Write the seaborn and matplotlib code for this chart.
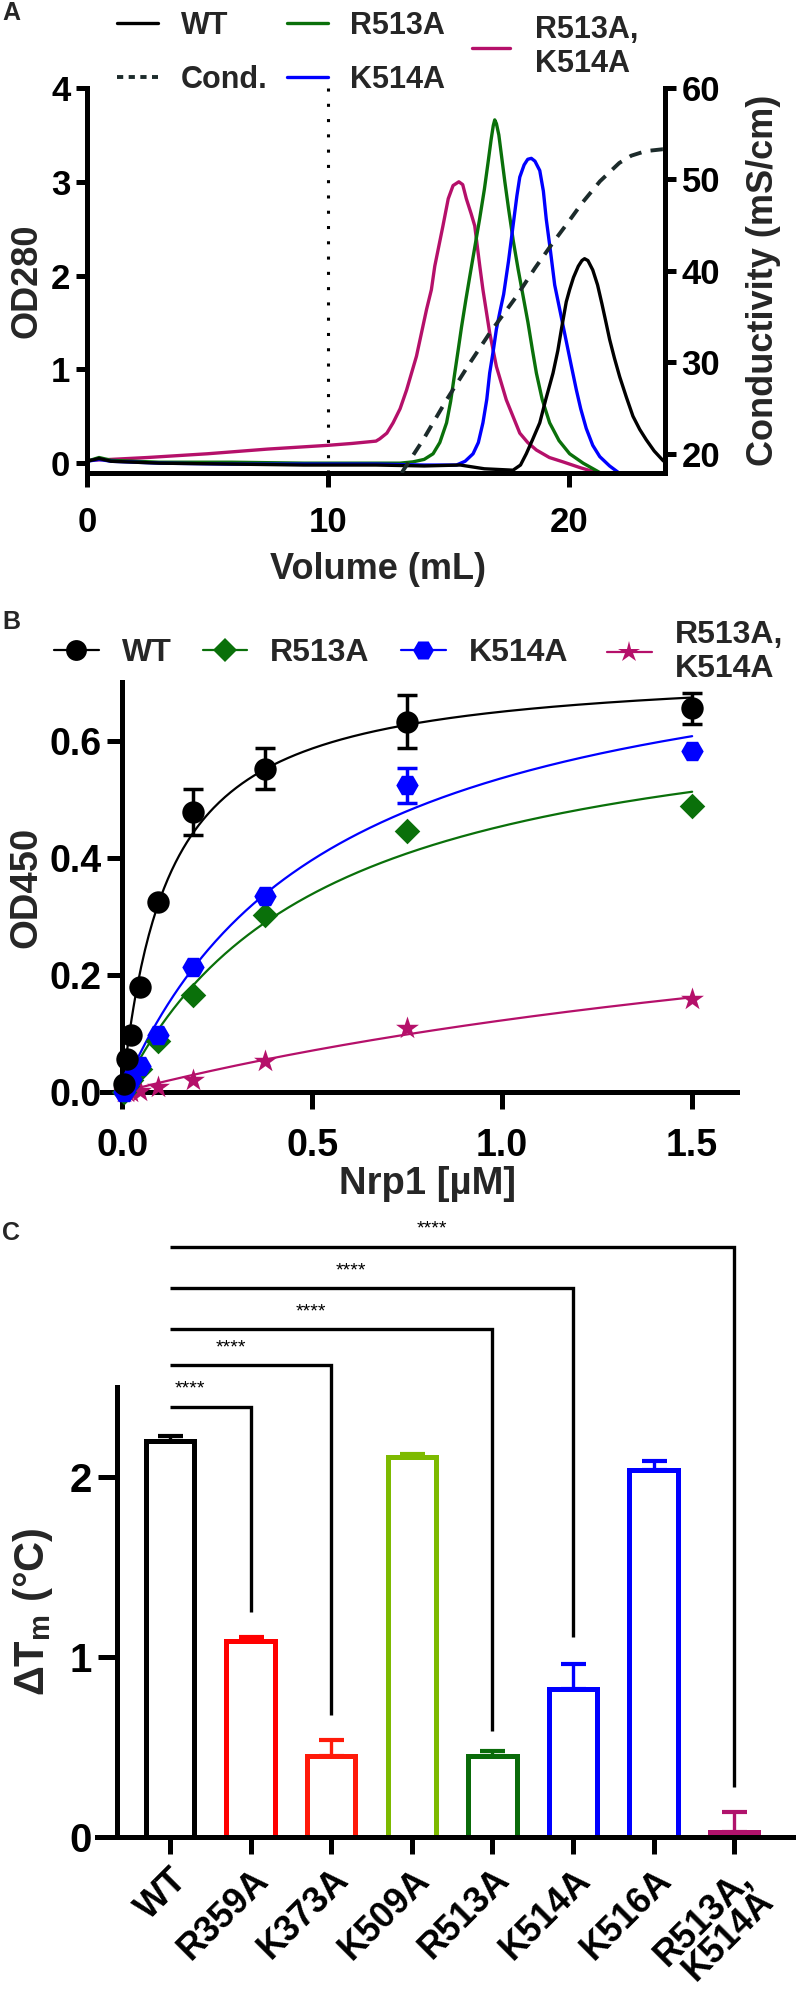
import numpy as np
import matplotlib
matplotlib.use("Agg")
import matplotlib.pyplot as plt
import seaborn as sns
from matplotlib.lines import Line2D

# ---------------- data ----------------
# Panel A: chromatograms (OD280) and conductivity
wt_vol = [0, 0.5, 1, 3, 6, 9, 12, 14, 15.5, 16.5, 17.69, 18.0, 18.24, 18.5, 18.8, 19.05,
          19.35, 19.55, 19.7, 19.9, 20.04, 20.2, 20.4, 20.55, 20.66, 20.8, 21.0, 21.2, 21.38,
          21.55, 21.7, 21.9, 22.12, 22.4, 22.67, 22.95, 23.22, 23.55, 23.91, 24.0]
wt_od = [0.02, 0.05, 0.02, 0.0, -0.01, -0.02, -0.02, -0.03, -0.02, -0.06, -0.075, -0.02,
         0.10, 0.25, 0.43, 0.68, 0.96, 1.2, 1.43, 1.72, 1.85, 1.98, 2.1, 2.16, 2.18, 2.16,
         2.06, 1.9, 1.7, 1.5, 1.32, 1.12, 0.92, 0.7, 0.5, 0.36, 0.25, 0.13, 0.03, 0.01]

r513_vol = [0, 0.5, 1, 3, 6, 9, 12, 13.0, 13.54, 14.0, 14.37, 14.65, 14.93, 15.1, 15.27,
            15.42, 15.55, 15.73, 15.9, 16.1, 16.3, 16.5, 16.65, 16.78, 16.87, 16.93, 17.0,
            17.1, 17.2, 17.35, 17.5, 17.7, 17.9, 18.08, 18.31, 18.5, 18.66, 18.9, 19.21,
            19.6, 20.04, 20.6, 21.29]
r513_od = [0.02, 0.06, 0.03, 0.01, 0.01, 0.0, 0.0, 0.0, 0.014, 0.04, 0.10, 0.22, 0.43,
           0.66, 0.96, 1.22, 1.45, 1.74, 2.0, 2.3, 2.6, 2.92, 3.2, 3.45, 3.6, 3.66, 3.62,
           3.5, 3.3, 3.0, 2.72, 2.37, 2.07, 1.82, 1.5, 1.2, 0.96, 0.68, 0.43, 0.24, 0.10,
           0.0, -0.10]

k514_vol = [0, 0.5, 1, 3, 6, 9, 12, 14, 15.34, 15.7, 16.03, 16.25, 16.44, 16.6, 16.72,
            16.87, 17.0, 17.15, 17.3, 17.5, 17.69, 17.85, 17.97, 18.15, 18.3, 18.45, 18.6,
            18.8, 18.95, 19.07, 19.25, 19.42, 19.7, 19.9, 20.1, 20.32, 20.5, 20.73, 21.0,
            21.29, 21.7, 22.12]
k514_od = [0.02, 0.04, 0.02, 0.0, -0.01, -0.01, -0.01, -0.02, -0.02, 0.02, 0.10, 0.22,
           0.43, 0.68, 0.96, 1.2, 1.43, 1.62, 1.8, 2.15, 2.53, 2.85, 3.05, 3.18, 3.24, 3.25,
           3.22, 3.12, 2.9, 2.6, 2.25, 1.9, 1.55, 1.3, 1.05, 0.78, 0.58, 0.37, 0.19, 0.07,
           -0.03, -0.11]

dbl_vol = [0, 1, 2.5, 5, 7.5, 10, 11, 12.0, 12.16, 12.45, 12.71, 13.0, 13.27, 13.68, 14.1,
           14.3, 14.44, 14.78, 15.0, 15.2, 15.44, 15.6, 15.75, 15.95, 16.1, 16.31, 16.44,
           16.72, 17.0, 17.41, 17.97, 18.3, 18.66, 19.2, 19.76, 20.5, 21.29]
dbl_od = [0.03, 0.04, 0.06, 0.10, 0.15, 0.19, 0.21, 0.235, 0.26, 0.32, 0.43, 0.58, 0.78,
          1.14, 1.64, 1.85, 2.10, 2.53, 2.82, 2.96, 3.0, 2.97, 2.82, 2.66, 2.53, 2.10, 1.85,
          1.39, 1.03, 0.675, 0.32, 0.22, 0.14, 0.06, 0.014, -0.05, -0.11]

cond_vol = [13.06, 13.95, 14.93, 15.89, 16.72, 17.83, 18.6, 19.35, 20.0, 20.55, 21.3,
            22.1, 22.6, 23.2, 23.9, 24.0]
cond_ms = [17.9, 21.5, 25.9, 29.9, 33.2, 37.2, 40.3, 43.1, 45.4, 47.4, 49.8, 51.8, 52.6,
           53.1, 53.3, 53.3]

# Panel B: binding ELISA
nrp1_um = [0.0059, 0.0117, 0.0234, 0.0469, 0.0938, 0.1875, 0.375, 0.75, 1.5]
od450_wt = [0.013, 0.057, 0.098, 0.18, 0.324, 0.478, 0.552, 0.632, 0.655]
sd450_wt = [0, 0, 0, 0, 0, 0.04, 0.035, 0.045, 0.027]
od450_r513 = [0.0, 0.01, 0.02, 0.04, 0.087, 0.165, 0.302, 0.445, 0.488]
od450_k514 = [0.0, 0.01, 0.022, 0.045, 0.098, 0.213, 0.334, 0.524, 0.582]
sd450_k514 = [0, 0, 0, 0, 0, 0, 0, 0.03, 0]
od450_dbl = [0.0, 0.0, 0.0, 0.002, 0.009, 0.02, 0.053, 0.11, 0.158]

# Panel C: thermal shift
mutants = ["WT", "R359A", "K373A", "K509A", "R513A", "K514A", "K516A", "R513A,\nK514A"]
dtm = [2.20, 1.09, 0.45, 2.11, 0.45, 0.82, 2.04, 0.03]
dtm_sd = [0.03, 0.02, 0.09, 0.02, 0.03, 0.14, 0.05, 0.11]
bar_colors = ["#000000", "#ff0000", "#ff1a0a", "#7dba00", "#0a6b0a", "#0000ff", "#0000ff", "#b0136c"]
sig_target = [1, 2, 4, 5, 7]
sig_level = [2.39, 2.62, 2.82, 3.05, 3.28]
sig_drop = [1.25, 0.68, 0.59, 1.11, 0.28]
sig_text = ["****"] * 5

BLACK, GREEN, BLUE, MAG, COND = "#000000", "#0a700a", "#0000ff", "#b5106a", "#1c2b2b"

# ---------------- style ----------------
sns.set_theme(style="ticks")
plt.rcParams['font.family'] = ['Liberation Sans', 'DejaVu Sans']
plt.rcParams['font.weight'] = 'bold'
plt.rcParams['axes.labelweight'] = 'bold'
plt.rcParams['mathtext.fontset'] = 'custom'
plt.rcParams['mathtext.rm'] = 'Liberation Sans:bold'
plt.rcParams['mathtext.it'] = 'Liberation Sans:bold'
plt.rcParams['mathtext.bf'] = 'Liberation Sans:bold'
plt.rcParams['axes.linewidth'] = 3.6
plt.rcParams['axes.edgecolor'] = 'black'

W, H = 803, 2000
fig = plt.figure(figsize=(W / 100, H / 100), dpi=100)


def box(left, top, right, bottom):
    return [left / W, 1 - bottom / H, (right - left) / W, (bottom - top) / H]


def style_ticks(ax, axis, size, length, pad, width=3.6):
    ax.tick_params(axis=axis, direction='out', length=length, width=width, pad=pad,
                   color='black', labelsize=size, labelcolor='black')
    labs = ax.get_xticklabels() if axis == 'x' else ax.get_yticklabels()
    for lab in labs:
        lab.set_fontweight('bold')


# ---------------- panel A ----------------
axA = fig.add_axes(box(87, 88, 665, 473))
for xs, ys, col in [(dbl_vol, dbl_od, MAG), (r513_vol, r513_od, GREEN),
                    (k514_vol, k514_od, BLUE), (wt_vol, wt_od, BLACK)]:
    sns.lineplot(x=xs, y=ys, ax=axA, color=col, lw=2.4, sort=False, estimator=None)
axA.axvline(10, color='black', lw=2.2, linestyle=(0, (1, 4)))
axA.set_xlim(0, 24)
axA.set_ylim(-0.105, 4.0)
axA.set_xticks([0, 10, 20])
axA.set_yticks([0, 1, 2, 3, 4])
axA.spines['top'].set_visible(False)
axA.spines['right'].set_visible(False)
style_ticks(axA, 'x', 25, 10, 14)
style_ticks(axA, 'y', 25, 8, 4)
axA.set_xlabel("Volume (mL)", fontsize=26)
axA.xaxis.set_label_coords(0.503, -0.205)
axA.set_ylabel("OD280", fontsize=26)
axA.yaxis.set_label_coords(-0.074, 0.5)

axA2 = axA.twinx()
sns.lineplot(x=cond_vol, y=cond_ms, ax=axA2, color=COND, lw=2.8, sort=False,
             estimator=None, linestyle=(0, (3.2, 2.4)))
axA2.set_ylim(17.9, 60)
axA2.set_yticks([20, 30, 40, 50, 60])
for s in ['top', 'left', 'bottom']:
    axA2.spines[s].set_visible(False)
style_ticks(axA2, 'y', 25, 8, 4)
axA2.set_ylabel("Conductivity (mS/cm)", fontsize=26)
axA2.yaxis.set_label_coords(1.14, 0.5)

legA_handles = [Line2D([0], [0], color=BLACK, lw=2.4),
                Line2D([0], [0], color=COND, lw=2.8, linestyle=(0, (1.6, 1.4))),
                Line2D([0], [0], color=GREEN, lw=2.4),
                Line2D([0], [0], color=BLUE, lw=2.4)]
fig.legend(legA_handles, ["WT", "Cond.", "R513A", "K514A"], loc='upper left',
           bbox_to_anchor=(117 / W, 1 - 11 / H), ncol=2, frameon=False, fontsize=22,
           handlelength=1.34, handletextpad=0.75, columnspacing=0.62,
           labelspacing=0.78, borderpad=0, borderaxespad=0)
fig.legend([Line2D([0], [0], color=MAG, lw=2.4)], ["R513A,\nK514A"], loc='center left',
           bbox_to_anchor=(472 / W, 1 - 47 / H), frameon=False, fontsize=22,
           handlelength=1.25, handletextpad=0.8, borderpad=0, borderaxespad=0)

# ---------------- panel B ----------------
axB = fig.add_axes(box(102, 682, 737, 1092))
series_b = [(od450_dbl, MAG, '*', 300), (od450_r513, GREEN, 'D', 170),
            (od450_k514, BLUE, 'H', 260), (od450_wt, BLACK, 'o', 260)]
xfit = np.linspace(0, 1.5, 300)
xa = np.array(nrp1_um)
for ys, col, mk, sz in series_b:
    # one-site binding fit to the points, as in the original analysis
    ya = np.array(ys)
    best = None
    for kd in np.logspace(-2.5, 1.5, 3000):
        f = xa / (kd + xa)
        bmax = (ya * f).sum() / (f * f).sum()
        sse = ((ya - bmax * f) ** 2).sum()
        if best is None or sse < best[0]:
            best = (sse, kd, bmax)
    _, kd, bmax = best
    sns.lineplot(x=xfit, y=bmax * xfit / (kd + xfit), ax=axB, color=col, lw=1.6,
                 sort=False, estimator=None)
for ys, col, mk, sz in series_b:
    sns.scatterplot(x=nrp1_um, y=ys, ax=axB, color=col, marker=mk, s=sz,
                    edgecolor=col, linewidth=0, zorder=4, clip_on=False)
for ys, err, col in [(od450_wt, sd450_wt, BLACK), (od450_k514, sd450_k514, BLUE)]:
    idx = [i for i, e in enumerate(err) if e > 0]
    axB.errorbar([nrp1_um[i] for i in idx], [ys[i] for i in idx], yerr=[err[i] for i in idx],
                 fmt='none', ecolor=col, elinewidth=2.5, capsize=7, capthick=2.5, zorder=3)
axB.set_xlim(-0.053, 1.618)
axB.set_ylim(0, 0.70)
axB.spines['left'].set_position(('data', 0))
axB.spines['top'].set_visible(False)
axB.spines['right'].set_visible(False)
axB.set_xticks([0, 0.5, 1.0, 1.5])
axB.set_xticklabels(["0.0", "0.5", "1.0", "1.5"])
axB.set_yticks([0, 0.2, 0.4, 0.6])
axB.set_yticklabels(["0.0", "0.2", "0.4", "0.6"])
style_ticks(axB, 'x', 27, 12, 14)
style_ticks(axB, 'y', 27, 11, 4)
axB.set_xlabel("Nrp1 [µM]", fontsize=27.5)
axB.xaxis.set_label_coords(0.513, -0.18)
axB.set_ylabel("OD450", fontsize=27.5)
axB.yaxis.set_label_coords(-0.091, 0.5)

legB_handles = [Line2D([0], [0], color=c, lw=1.6, marker=m, markersize=ms, markeredgewidth=0)
                for c, m, ms in [(BLACK, 'o', 15), (GREEN, 'D', 12), (BLUE, 'H', 15)]]
fig.legend(legB_handles, ["WT", "R513A", "K514A"], loc='center left',
           bbox_to_anchor=(54 / W, 1 - 653 / H), ncol=3, frameon=False, fontsize=23,
           handlelength=1.4, handletextpad=0.72, columnspacing=0.97, borderpad=0,
           borderaxespad=0)
fig.legend([Line2D([0], [0], color=MAG, lw=1.6, marker='*', markersize=16, markeredgewidth=0)],
           ["R513A,\nK514A"], loc='center left', bbox_to_anchor=(607 / W, 1 - 652 / H),
           frameon=False, fontsize=23, handlelength=1.4, handletextpad=0.72, borderpad=0,
           borderaxespad=0)

# ---------------- panel C ----------------
axC = fig.add_axes(box(97, 1225, 793, 1837))
sns.barplot(x=mutants, y=dtm, hue=mutants, palette=bar_colors, fill=False, linewidth=3.6,
            width=0.6, legend=False, errorbar=None, ax=axC)
for i, (v, e, c) in enumerate(zip(dtm, dtm_sd, bar_colors)):
    axC.errorbar([i], [v], yerr=[[0], [e]], fmt='none', ecolor=c, elinewidth=2.4,
                 capsize=9, capthick=3.0, zorder=3)
for j, h, d, t in zip(sig_target, sig_level, sig_drop, sig_text):
    axC.plot([0, j, j], [h, h, d], color='black', lw=2.4, solid_joinstyle='miter',
             solid_capstyle='butt')
    axC.text(j / 2 - 0.25, h + 0.05, t, ha='center', va='bottom', fontsize=14,
             fontweight='normal', color='black')
axC.set_xlim(-0.906, 7.73)
axC.set_ylim(0, 3.4)
axC.spines['left'].set_position(('data', -0.66))
axC.spines['left'].set_bounds(0, 2.5)
axC.spines['top'].set_visible(False)
axC.spines['right'].set_visible(False)
axC.set_yticks([0, 1, 2])
axC.set_xticks(range(len(mutants)))
axC.set_xticklabels(mutants, rotation=45, ha='right', va='top', rotation_mode='anchor',
                    fontsize=26, fontweight='bold', linespacing=0.85, multialignment='right')
style_ticks(axC, 'x', 26, 12, 6)
style_ticks(axC, 'y', 29, 14, 4)
axC.set_xlabel("")
axC.set_ylabel("ΔT$_\\mathrm{m}$ (°C)", fontsize=30)
axC.yaxis.set_label_coords(-0.06, 1.25 / 3.4)

# panel letters
for lab, (px, py) in zip("ABC", [(11, 13), (11, 622), (11, 1233)]):
    fig.text(px / W, 1 - py / H, lab, fontsize=18, fontweight='bold', ha='center', va='center')

fig.savefig("out.png", dpi=100)
